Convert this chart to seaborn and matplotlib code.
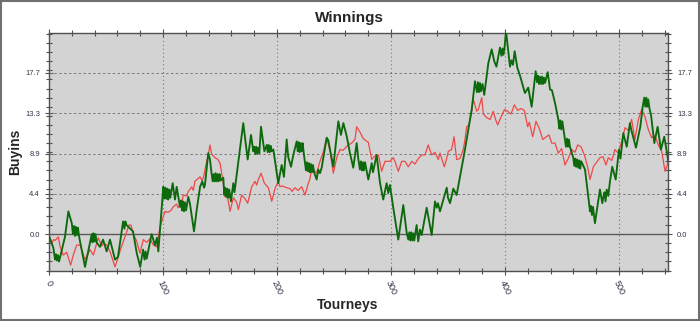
import matplotlib
matplotlib.use("Agg")
import matplotlib.pyplot as plt
from matplotlib.ticker import MultipleLocator, FixedLocator
from matplotlib.patches import Rectangle
import seaborn as sns
import pandas as pd

# ---------------- data ----------------
green_x = [0, 3.8, 5.3, 6.1, 7.0, 7.9, 8.8, 9.6, 14, 17, 20, 21, 22, 22.8, 23.7, 24.6, 25.4, 26.3,
           31.6, 37.5, 38.2, 39, 39.9, 40.8, 41.7, 44.7, 47.4, 50.6, 53.5, 57.9, 60.5, 65, 66.2, 67, 68,
           73.7, 77, 80, 82.5, 83.8, 84.7, 85.7, 90, 93, 94.7, 95.9, 100.3, 101.1, 102, 102.9, 103.8,
           104.6, 105.5, 106.4, 108.5, 110.5, 112, 114.9, 115.8, 116.7, 117.5, 118.4, 119.3, 120.2,
           122.2, 123.7, 127.2, 129.6, 132.5, 134.5, 136, 136.8, 139.7, 141.2, 142.7, 143.6, 144.5,
           145.4, 146.2, 147.1, 148, 148.9, 149.7, 150.6, 152.9, 153.8, 154.6, 155.5, 156.4, 157.3,
           158.1, 159.6, 161.7, 162.7, 170.4, 174.3, 177.2, 179.2, 180.1, 181, 181.8, 182.7, 183.6,
           184.5, 186, 188.9, 191, 191.8, 192.7, 193.6, 194.5, 195.3, 196.8, 201.1, 204.1, 206.1,
           208.5, 209.8, 212.3, 214.3, 217.3, 218.2, 219, 219.9, 220.8, 221.7, 222.5, 223.2, 224.6,
           225.4, 226.3, 227.2, 228.1, 228.9, 229.8, 230.7, 231.6, 232.5, 234.8, 236.2, 237.7, 239.2,
           243.6, 245, 249.4, 253.8, 256.1, 258.2, 261.1, 264, 266.9, 269.9, 271.3, 272.8, 273.7,
           274.6, 275.4, 276.3, 277.2, 280.1, 283.1, 284.2, 287.4, 290.4, 293.2, 296.2, 297.6, 299.1,
           302, 306.4, 310.8, 313.7, 315.2, 316.1, 317, 317.8, 318.7, 319.6, 320.4, 322.5, 323.9,
           325.4, 326.9, 331.3, 335.7, 338.6, 340.1, 341.2, 343, 348.9, 350, 351.8, 354.7, 357.6,
           360.5, 364.9, 370.8, 373.7, 375.4, 376.3, 377.2, 378.1, 378.9, 380.3, 381.8, 385.4, 388.3,
           390.6, 392.5, 395.6, 396.9, 397.8, 398.7, 399.6, 400.9, 404.4, 405.7, 407, 408.5, 410.8,
           413.2, 417.5, 420.4, 423.4, 426.9, 428.1, 429, 429.8, 430.7, 431.6, 432.5, 433.3, 434.2,
           435.1, 437.5, 439.5, 441.2, 443.9, 446.8, 447.6, 448.5, 449.4, 450.3, 452.6, 453.5, 454.4,
           455.3, 456.1, 457, 459.9, 460.8, 461.7, 462.5, 463.4, 464.3, 465.2, 466, 466.9, 470.2,
           474.6, 475.4, 476.3, 477.2, 478.9, 483.3, 485.4, 486.3, 487.3, 488.2, 489.2, 490.6, 492.1,
           494.1, 497.1, 500, 501.3, 503.8, 506.8, 509.6, 510.9, 514.9, 518.7, 520.8, 522.2, 523.1,
           524, 524.8, 525.7, 526.6, 528.1, 531, 533.9, 536.8, 539.7, 542.7, 543.5]
green_y = [-0.2, -1.5, -2.8, -2.2, -2.9, -2.3, -3.0, -2.6, -0.3, 2.5, 1.2, 0.0, 0.9, -0.2, 0.8, -0.1, 0.7, -0.2,
           -3.6, 0.0, -0.9, 0.1, -0.8, 0.0, -0.9, -1.4, -0.6, -1.9, -0.6, -2.8, -2.5, 1.4, 0.6, 1.4, 1.0,
           0.3, -2.1, -3.6, -1.7, -2.8, -1.9, -2.7, 0.0, -1.2, -0.4, -1.9, 5.2, 3.9, 5.1, 3.9, 5.0,
           3.8, 4.9, 4.0, 5.6, 3.8, 5.2, 3.0, 3.7, 2.6, 3.6, 2.5, 3.5, 2.6,
           4.1, 3.3, 0.3, 2.7, 5.2, 5.8, 5.1, 5.4, 8.9, 8.2, 6.6, 5.8, 6.6,
           5.8, 6.7, 5.8, 6.6, 5.8, 6.6, 5.9, 6.2, 4.3, 5.1, 4.1, 5.0, 4.0,
           4.9, 3.6, 5.6, 4.6, 12.2, 8.2, 10.9, 9.1, 9.6, 8.8, 9.6, 8.8, 9.5,
           8.9, 11.8, 9.1, 9.8, 9.0, 9.8, 9.0, 9.7, 9.1, 9.3, 5.6, 7.6, 6.3,
           10.4, 8.5, 7.4, 8.7, 10.2, 9.1, 10.1, 9.0, 10.0, 9.1, 10.0, 9.2, 7.8,
           7.0, 7.9, 6.9, 7.8, 6.8, 7.7, 6.8, 7.6, 6.8, 6.0, 7.1, 6.7, 7.3,
           10.6, 10.3, 7.4, 12.4, 10.9, 12.2, 10.8, 8.9, 7.3, 10.0, 8.3, 7.1, 8.0,
           7.0, 7.9, 7.0, 7.9, 6.0, 7.8, 6.8, 8.7, 5.6, 3.8, 5.6, 4.5, 5.4,
           2.9, -0.6, 3.2, 0.2, -0.6, 0.2, -0.7, 0.2, -0.7, 0.1, -0.7, 1.0, -0.8,
           0.5, -0.1, 2.9, -0.1, 3.6, 2.9, 3.4, 2.5, 5.1, 4.0, 3.4, 5.0, 4.3,
           6.3, 9.3, 13.7, 16.8, 15.6, 16.7, 15.6, 16.6, 15.7, 16.5, 15.3, 18.8, 20.3,
           19.0, 18.4, 20.5, 19.6, 20.4, 19.7, 20.5, 22.3, 18.4, 19.1, 18.6, 20.1, 18.3,
           17.4, 15.5, 16.1, 14.0, 17.9, 16.7, 17.4, 16.5, 17.3, 16.5, 17.3, 16.5, 17.2,
           16.6, 17.8, 15.9, 15.8, 14.4, 12.6, 11.6, 12.5, 11.5, 12.4, 10.4, 9.6, 10.5,
           9.6, 10.4, 9.6, 8.4, 7.5, 8.3, 7.4, 8.2, 7.3, 8.1, 7.2, 8.0, 7.1,
           2.5, 3.1, 2.1, 3.0, 1.2, 4.9, 3.4, 4.1, 4.6, 3.6, 4.9, 4.2, 5.8,
           7.4, 6.0, 9.3, 8.3, 11.1, 9.6, 12.2, 11.4, 9.5, 11.8, 14.0, 15.0, 14.0,
           15.0, 14.0, 14.8, 13.9, 13.1, 10.0, 11.8, 9.3, 10.7, 8.5, 7.8]

red_x = [0, 2.4, 4, 5.3, 8.2, 9.6, 12.5, 15.5, 17, 19, 21.3, 24.3, 27.2, 29, 31.6, 33.6, 36, 38.9,
         43.2, 46.2, 48.2, 50.6, 53.5, 57.9, 60.8, 63.2, 65.2, 68.2, 70.2, 71.9, 74, 77, 79.8, 82.7,
         85.7, 88.6, 91.5, 94.5, 97.4, 98.9, 101.8, 104.4, 107, 109, 112, 113.2, 116.4, 117.8,
         120.8, 122.2, 125.2, 126.6, 128, 130.7, 132.5, 134.2, 135.4, 138.3, 139.5, 141.2, 142.7,
         145.6, 148.2, 150, 151.5, 152.6, 154.4, 156.4, 157.3, 158.8, 161.7, 164.6, 166.1, 169,
         171.9, 174.3, 177.8, 180.7, 182.2, 183.6, 186, 188.9, 192.4, 193.9, 195.4, 196.8, 198.2,
         201.1, 202.6, 204.4, 208.5, 211.4, 213.2, 215.8, 218.4, 221.7, 224.6, 227.5, 229, 230.4,
         232.5, 234.8, 237.7, 240.6, 243.6, 246.5, 249.4, 252.4, 255.3, 257.9, 262.5, 265.4, 268.4,
         269.9, 272.8, 275.7, 278.7, 280.1, 283.1, 286, 289, 291.8, 294.7, 299.1, 302, 303.5,
         306.4, 309.4, 312.3, 315.2, 318.2, 321, 324, 326.9, 329.8, 332.7, 335.7, 338.6, 341.5,
         343, 346.8, 348.2, 350.3, 353.2, 355.3, 357.6, 360.5, 363.4, 364.9, 366.4, 368.4, 370.8,
         372.2, 375.2, 376.6, 379.6, 381, 384, 387, 389.7, 391.7, 393.6, 395.6, 399.6, 402.4,
         405.3, 408.2, 411.1, 414, 416.9, 419.9, 421.3, 424.3, 427.2, 430.1, 433.1, 437.5, 438.6,
         441, 443.9, 446.8, 449.7, 452.6, 455.5, 458.5, 461.4, 463.8, 466.7, 470.2, 472.8, 474.6,
         477.5, 480.4, 483.3, 486, 488.6, 490.6, 493.6, 496.5, 499.4, 502.4, 505.3, 508.2, 511.1,
         514, 517, 519.9, 522.8, 525.7, 528.7, 531.6, 534.5, 537.5, 540.4, 543.5]
red_y = [-0.1, -1.0, -0.6, -0.7, -0.3, -1.3, -2.3, -2.0, -2.6, -3.4, -2.3, -1.2, -1.2, -1.8, -2.8, -2.3, -1.7, -2.3,
         -0.4, -1.3, -1.0, -1.2, -1.9, -3.6, -2.5, -1.5, -0.8, 0.3, 1.0, 1.0, 0.0, -0.8, -2.1, -0.6,
         -0.9, -0.5, -1.2, -1.4, 0.8, 1.4, 2.5, 2.4, 2.6, 3.0, 3.3, 2.9, 3.4, 4.3,
         4.2, 4.7, 5.2, 4.8, 5.8, 6.1, 6.3, 5.9, 6.2, 8.0, 8.5, 9.8, 8.8,
         8.4, 8.2, 7.8, 6.7, 5.8, 4.1, 4.1, 3.6, 2.5, 4.0, 3.5, 2.7, 4.3,
         3.9, 3.4, 5.2, 5.8, 5.4, 6.0, 6.7, 5.6, 5.1, 4.4, 3.6, 4.3, 5.0,
         5.8, 5.2, 5.3, 5.1, 5.0, 4.7, 5.1, 4.8, 5.2, 4.3, 5.6, 6.1, 7.4,
         7.0, 6.7, 8.0, 9.0, 10.6, 9.1, 6.7, 8.4, 9.3, 9.2, 9.8, 10.0, 10.4,
         11.8, 11.2, 10.5, 10.2, 10.1, 8.2, 8.6, 8.7, 6.9, 8.0, 8.0, 8.4, 8.0,
         6.9, 8.0, 8.0, 7.4, 8.0, 7.7, 8.3, 8.7, 8.7, 9.8, 8.7, 9.0, 8.2,
         8.9, 7.4, 8.0, 9.1, 9.3, 10.7, 8.2, 8.3, 9.3, 10.4, 11.8, 12.0, 13.5,
         14.8, 13.5, 13.7, 15.0, 13.2, 12.8, 12.6, 13.5, 12.6, 12.0, 12.6, 13.7, 13.5,
         13.2, 14.2, 13.6, 13.8, 13.6, 11.8, 12.3, 10.7, 12.4, 11.6, 10.4, 10.8, 10.9,
         10.0, 10.0, 8.9, 9.4, 7.6, 8.3, 9.3, 9.0, 9.8, 9.6, 8.5, 7.2, 6.0,
         7.4, 7.9, 8.4, 8.5, 7.6, 8.4, 8.1, 9.3, 8.9, 10.2, 11.7, 11.4, 12.6,
         10.4, 12.6, 13.7, 12.9, 11.5, 10.6, 10.8, 9.8, 9.1, 6.9, 8.0]

y_ticks = [0.0, 4.43, 8.86, 13.29, 17.72]
y_tick_labels = ["0.0", "4.4", "8.9", "13.3", "17.7"]
x_ticks = [0, 100, 200, 300, 400, 500]

# ---------------- plotting ----------------
sns.set_style("white", {"axes.facecolor": "#d3d3d3"})
plt.rcParams["font.family"] = ["Liberation Sans", "DejaVu Sans"]

fig = plt.figure(figsize=(7.0, 3.21), dpi=100)
ax = fig.add_axes([49 / 700, 1 - 271 / 321, (668 - 49) / 700, (271 - 33) / 321])
ax.set_facecolor("#d3d3d3")

dg = pd.DataFrame({"x": green_x, "y": green_y})
dr = pd.DataFrame({"x": red_x, "y": red_y})

ax.axhline(0, color="#5a5a5a", lw=1.0, zorder=1)
sns.lineplot(data=dr, x="x", y="y", ax=ax, color="#f04848", lw=0.9, sort=False, estimator=None, zorder=3)
sns.lineplot(data=dg, x="x", y="y", ax=ax, color="#0c6a0c", lw=1.35, sort=False, estimator=None, zorder=4)

ax.set_xlim(0, 543)
ax.set_ylim(-4.05, 22.1)

# grid
for yt in y_ticks[1:]:
    ax.axhline(yt, color="#7a7a7a", lw=0.7, ls=(0, (2.5, 2.5)), zorder=2)
for xt in x_ticks[1:]:
    ax.axvline(xt, color="#7a7a7a", lw=0.8, ls=(0, (1, 2.5)), zorder=2)

ax.yaxis.set_major_locator(FixedLocator(y_ticks))
ax.set_yticklabels(y_tick_labels)
ax.yaxis.set_minor_locator(MultipleLocator(1.0))
ax.xaxis.set_major_locator(FixedLocator(x_ticks))
ax.xaxis.set_minor_locator(MultipleLocator(20))

tick_col = "#33334a"
ax.tick_params(axis="both", which="major", labelsize=5.5, labelcolor=tick_col, color="#505050",
               direction="inout", length=6, width=0.8)
ax.tick_params(axis="both", which="minor", color="#505050", direction="inout", length=4, width=0.8)
ax.tick_params(axis="y", which="both", left=True, right=True, labelleft=True, labelright=True)
ax.tick_params(axis="x", which="both", bottom=True, top=True, labelbottom=True, labeltop=False)
ax.tick_params(axis="x", which="major", pad=3, labelsize=6.5)
for lab in ax.get_xticklabels():
    lab.set_rotation(-65)
    lab.set_ha("center")
    lab.set_va("top")

for side in ["left", "bottom", "right", "top"]:
    ax.spines[side].set_visible(True)
    ax.spines[side].set_color("#505050")
    ax.spines[side].set_linewidth(1.0)

ax.set_xlabel("")
ax.set_ylabel("")
fig.text(0.499, 1 - 18 / 321, "Winnings", ha="center", va="center", fontsize=11, fontweight="bold")
fig.text(0.497, 1 - 305 / 321, "Tourneys", ha="center", va="center", fontsize=10, fontweight="bold")
fig.text(15 / 700, 1 - 152 / 321, "Buyins", ha="center", va="center", fontsize=10, fontweight="bold",
         rotation=90)

fig.add_artist(Rectangle((0.0015, 0.003), 0.997, 0.994, transform=fig.transFigure, fill=False,
                         ec="#707070", lw=1.5))

fig.savefig("out.png", dpi=100, facecolor="white")
